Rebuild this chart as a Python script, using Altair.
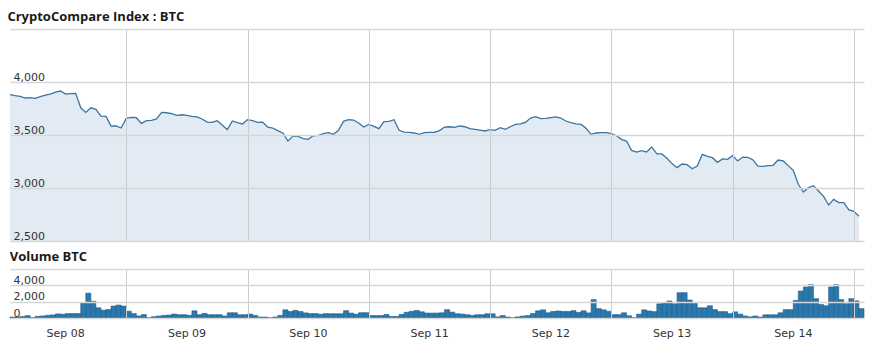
import altair as alt
import pandas as pd

# Hourly BTC index, starting Sep 07 13:00 (UTC)
price = [3880, 3871, 3864, 3849, 3852, 3846, 3861, 3877, 3886, 3905,
         3915, 3886, 3890, 3893, 3757, 3713, 3757, 3742, 3679, 3676,
         3585, 3585, 3566, 3657, 3666, 3663, 3610, 3635, 3638, 3651,
         3713, 3710, 3701, 3685,
         3691, 3685, 3676, 3670, 3651, 3622, 3619, 3635, 3594, 3550,
         3632, 3616, 3604, 3644, 3635, 3619, 3622, 3575, 3566, 3541,
         3519, 3443, 3490, 3487, 3465, 3459, 3493, 3497, 3512, 3522,
         3506, 3544, 3629, 3644,
         3641, 3613, 3575, 3600, 3582, 3560, 3626, 3629, 3644, 3544,
         3528, 3525, 3519, 3506, 3522, 3525, 3525, 3541, 3575, 3578,
         3572, 3585, 3578, 3560, 3553, 3547, 3538, 3550, 3544, 3569,
         3553, 3578, 3600,
         3604, 3619, 3660, 3673, 3654, 3657, 3663, 3670, 3660, 3632,
         3616, 3604, 3600, 3563, 3506, 3519, 3522, 3522, 3512, 3493,
         3459, 3443, 3355, 3339, 3352, 3339, 3387, 3321, 3321, 3280,
         3230, 3192, 3226,
         3220, 3182, 3207, 3317, 3299, 3286, 3242, 3274, 3270, 3305,
         3255, 3292, 3289, 3267, 3207, 3204, 3211, 3214, 3264, 3255,
         3211, 3167, 3035, 2962, 3003, 3022, 2972, 2921, 2840, 2893,
         2862, 2862, 2793, 2780, 2733]

volume = [125, 125, 170, 290, 40, 210, 250, 330, 375, 500, 460, 540, 540, 540,
          1880, 3040, 2040, 1250, 960, 1040, 1460, 1580, 1460, 830, 540, 250, 420,
          30, 160, 240, 320, 360, 480, 400,
          400, 320, 880, 400, 560, 400, 400, 400, 240, 640,
          640, 400, 400, 480, 320, 120, 120, 20, 120, 320,
          1000, 800, 940, 790, 625, 540, 540, 460, 540, 520, 520, 520, 900, 600,
          470, 650, 650, 300, 300, 300, 430, 180, 180, 430, 700, 820, 920, 760,
          600, 600, 600, 640, 1020, 720, 520, 480, 400, 320, 400, 400, 520, 520,
          140, 300, 120, 20, 140, 240,
          300, 550, 880, 1000, 640, 800, 860, 800, 800, 900, 680, 880, 620, 2250,
          1150, 1000, 820, 410, 410, 640, 270, 20, 470, 1000, 860, 780, 1740, 1880,
          2080, 1740, 3100, 3100, 2200,
          1800, 1250, 1250, 1500, 1020, 780, 780, 530, 750, 470, 245, 140, 245, 120,
          390, 390, 390, 640, 1020, 1020, 2150, 3300, 3800, 4080, 2370, 1650, 1500,
          3800, 4080, 2250, 1750, 2370, 2100, 1150]

price_ticks = [2500, 3000, 3500, 4000, 4500]
volume_ticks = [0, 2000, 4000, 6000]
day_dates = [8, 9, 10, 11, 12, 13, 14]

start = pd.Timestamp("2017-09-07T13:00:00Z")
times = pd.date_range(start, periods=len(price), freq="h")
df = pd.DataFrame({
    "t": times.strftime("%Y-%m-%dT%H:%M:%SZ"),
    "t2": (times + pd.Timedelta(hours=1)).strftime("%Y-%m-%dT%H:%M:%SZ"),
    "price": price,
    "volume": volume,
})

x_domain = [alt.DateTime(year=2017, month=9, date=7, hours=13, utc=True),
            alt.DateTime(year=2017, month=9, date=14, hours=14, utc=True)]
noons = [alt.DateTime(year=2017, month=9, date=d, hours=12, utc=True) for d in day_dates]
xscale = alt.Scale(type="utc", domain=x_domain)

W = 854

x_top = alt.X("t:T", scale=xscale, title=None,
              axis=alt.Axis(values=noons, labels=False, ticks=False, domain=False,
                            grid=True, gridColor="#cccccc", gridWidth=1, zindex=1))
x_bot = alt.X("t:T", scale=xscale, title=None,
              axis=alt.Axis(values=noons, labels=True, ticks=False, domain=False,
                            grid=True, gridColor="#cccccc", gridWidth=1, zindex=1,
                            labelExpr="utcFormat(datum.value, '%b %d')",
                            labelOffset=-61, labelPadding=9, labelFlush=False,
                            labelOverlap=False))

y_price = alt.Y("price:Q", title=None,
                scale=alt.Scale(domain=[2500, 4500], nice=False, zero=False),
                axis=alt.Axis(values=price_ticks, orient="left", ticks=False, tickSize=0,
                              domain=False, labelAlign="left", labelPadding=-3,
                              labelBaseline="alphabetic", labelOffset=-2,
                              labelExpr="datum.value >= 4500 ? '' : format(datum.value, ',')",
                              gridColor="#d6d6d6", gridWidth=1.5, zindex=1))

area = alt.Chart(df).mark_area(color="#e2ebf4", opacity=1).encode(
    x=x_top, y=y_price, y2=alt.datum(2500))
line = alt.Chart(df).mark_line(color="#3a74a3", strokeWidth=1.3).encode(
    x=x_top, y="price:Q")

price_chart = alt.layer(area, line).properties(
    width=W, height=212,
    title=alt.TitleParams("CryptoCompare Index : BTC", anchor="start", offset=5,
                          font="Open Sans", fontSize=13, fontWeight="bold", color="#1a1a1a"))

y_vol = alt.Y("volume:Q", title=None,
              scale=alt.Scale(domain=[0, 6000], nice=False),
              axis=alt.Axis(values=volume_ticks, orient="left", ticks=False, tickSize=0,
                            domain=False, labelAlign="left", labelPadding=-3,
                            labelBaseline="alphabetic", labelOffset=-2,
                            labelExpr="datum.value >= 6000 ? '' : format(datum.value, ',')",
                            gridColor="#d6d6d6", gridWidth=1.5, zindex=1))

bars = alt.Chart(df).mark_bar(color="#2b78ad", stroke="#1d5c89", strokeWidth=0.6).encode(
    x=x_bot, x2="t2:T", y=y_vol, y2=alt.datum(0))

vol_chart = bars.properties(
    width=W, height=49,
    title=alt.TitleParams("Volume BTC", anchor="start", offset=5,
                          font="Open Sans", fontSize=13, fontWeight="bold", color="#1a1a1a"))

chart = alt.vconcat(price_chart, vol_chart, spacing=10).properties(
    padding={"left": 7, "top": 11, "right": 5, "bottom": 5},
    background="white",
).configure_view(stroke=None).configure_axis(
    labelFont="DejaVu Sans", labelFontSize=11, labelColor="#333333"
)

chart.save("out.html", embed_options={"renderer": "svg", "actions": False})
